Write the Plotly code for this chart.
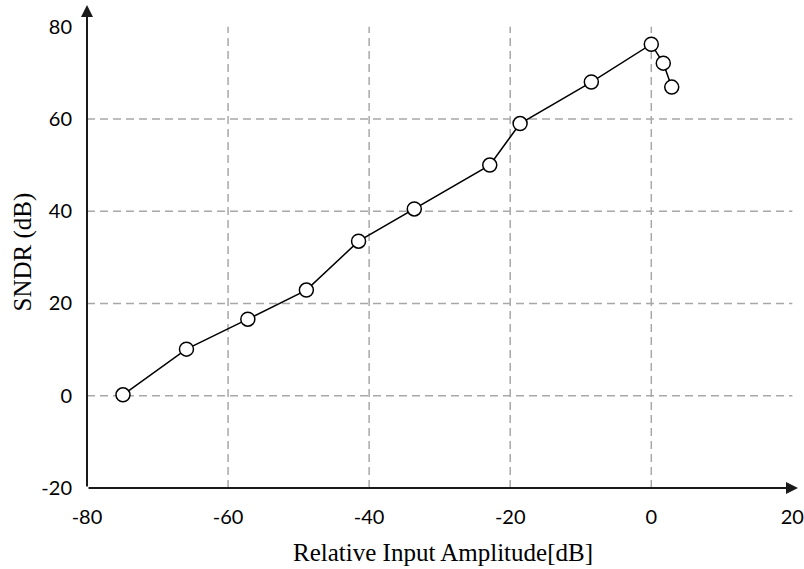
import plotly.graph_objects as go

# Measured SNDR versus relative input amplitude
input_amplitude_db = [-74.9, -65.9, -57.2, -48.9, -41.5, -33.6, -22.9, -18.6, -8.5, 0.0, 1.7, 2.9]
sndr_db = [0.2, 10.1, 16.6, 22.9, 33.5, 40.5, 50.0, 59.0, 68.0, 76.2, 72.1, 66.9]

x_ticks = [-80, -60, -40, -20, 0, 20]
y_ticks = [-20, 0, 20, 40, 60, 80]

x_title = "Relative Input Amplitude[dB]"
y_title = "SNDR (dB)"

x_min, x_max = -80, 20.8
y_min, y_max = -20, 84.7

fig = go.Figure()

# Dashed grid on interior ticks only, spanning the tick box
grid_style = dict(color="#a8a8a8", width=1.5, dash="8px,5px")
for xv in x_ticks[1:-1]:
    fig.add_shape(type="line", xref="x", yref="y", layer="below",
                  x0=xv, x1=xv, y0=y_ticks[0], y1=y_ticks[-1], line=grid_style)
for yv in y_ticks[1:-1]:
    fig.add_shape(type="line", xref="x", yref="y", layer="below",
                  x0=x_ticks[0], x1=x_ticks[-1], y0=yv, y1=yv, line=grid_style)

fig.add_trace(go.Scatter(
    x=input_amplitude_db,
    y=sndr_db,
    mode="lines+markers",
    line=dict(color="black", width=1.5),
    marker=dict(symbol="circle", size=14, color="white",
                line=dict(color="black", width=1.5)),
    showlegend=False,
    cliponaxis=False,
))

# Axis lines drawn with arrowheads
fig.add_annotation(x=x_max, y=y_min, ax=x_min, ay=y_min,
                   xref="x", yref="y", axref="x", ayref="y",
                   showarrow=True, arrowhead=2, arrowsize=1.2,
                   arrowwidth=2, arrowcolor="#1a1a1a", text="")
fig.add_annotation(x=x_min, y=y_max, ax=x_min, ay=y_min,
                   xref="x", yref="y", axref="x", ayref="y",
                   showarrow=True, arrowhead=2, arrowsize=1.2,
                   arrowwidth=2, arrowcolor="#1a1a1a", text="")

# Axis titles
title_font = dict(family="Liberation Serif", size=25, color="black")
fig.add_annotation(text=x_title, xref="paper", yref="paper", x=0.5, y=0,
                   xanchor="center", yanchor="middle", yshift=-64,
                   showarrow=False, font=title_font)
fig.add_annotation(text=y_title, xref="paper", yref="paper", x=0, y=0.5,
                   xanchor="center", yanchor="middle", xshift=-65, yshift=-6,
                   textangle=-90, showarrow=False, font=title_font)

axis_common = dict(showgrid=False, zeroline=False, showline=False, ticks="",
                   automargin=False,
                   tickfont=dict(family="Lato", size=20, color="black"))

fig.update_xaxes(
    range=[x_min, x_max], tickvals=x_ticks, ticktext=[str(v) for v in x_ticks],
    ticklabelstandoff=15, **axis_common,
)
fig.update_yaxes(
    range=[y_min, y_max], tickvals=y_ticks, ticktext=[str(v) for v in y_ticks],
    ticklabelstandoff=14, **axis_common,
)

fig.update_layout(
    width=804, height=569,
    margin=dict(l=87, r=6, t=5, b=81),
    plot_bgcolor="white", paper_bgcolor="white",
)

fig.write_html("out.html")
